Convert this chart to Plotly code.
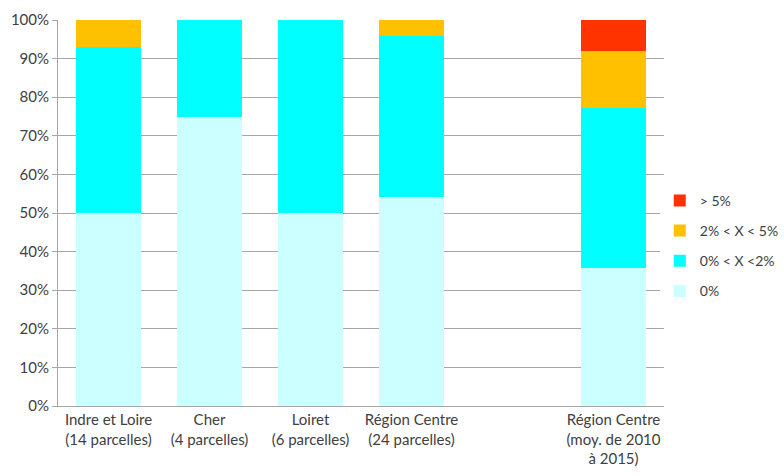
import plotly.graph_objects as go

categories = [
    "Indre et Loire<br>(14 parcelles)",
    "Cher<br>(4 parcelles)",
    "Loiret<br>(6 parcelles)",
    "Région Centre<br>(24 parcelles)",
    " ",
    "Région Centre<br>(moy. de 2010<br>à 2015)",
]
series_names = ["0%", "0% < X <2%", "2% < X < 5%", "> 5%"]
zero = [50.0, 75.0, 50.0, 54.2, None, 35.8]
low = [42.9, 25.0, 50.0, 41.7, None, 41.5]
mid = [7.1, 0.0, 0.0, 4.1, None, 14.7]
high = [0.0, 0.0, 0.0, 0.0, None, 8.0]
colors = ["#CCFFFF", "#00FFFF", "#FFC000", "#FF3300"]

fig = go.Figure()
for i, (name, vals, col) in enumerate(zip(series_names, [zero, low, mid, high], colors)):
    fig.add_trace(go.Bar(
        x=categories, y=vals, name=name, marker_color=col,
        marker_line_width=0, legendgroup=f"g{i}", legendrank=1000 - i,
    ))

fig.update_layout(
    barmode="stack",
    bargap=0.36,
    width=784, height=476,
    margin=dict(l=58, r=120, t=20, b=70, autoexpand=False),
    plot_bgcolor="white", paper_bgcolor="white",
    font=dict(family="Lato, Open Sans, sans-serif", size=15, color="#404040"),
    legend=dict(
        x=0.993, xanchor="left", y=0.415, yanchor="middle",
        traceorder="grouped", tracegroupgap=9,
        font=dict(size=14, color="#404040"),
    ),
    xaxis=dict(
        showline=True, linecolor="#A6A6A6", linewidth=1,
        tickfont=dict(size=15, color="#404040"), ticks="",
    ),
    yaxis=dict(
        range=[0, 100], dtick=10, ticksuffix="%",
        showgrid=True, gridcolor="#A6A6A6", gridwidth=1,
        showline=True, linecolor="#A6A6A6", linewidth=1,
        zeroline=False,
        tickfont=dict(size=15, color="#404040"),
        ticks="outside", ticklen=5, tickcolor="#A6A6A6",
    ),
)

fig.write_html("out.html")
